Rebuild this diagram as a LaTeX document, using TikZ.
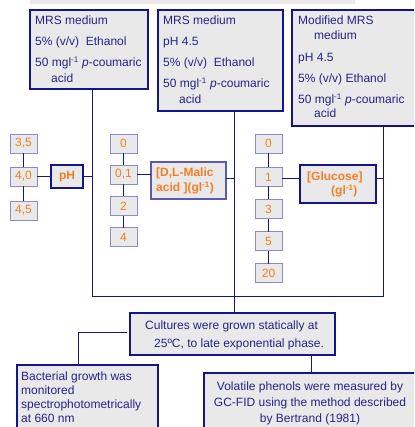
\documentclass[tikz,border=0pt]{standalone}
\usepackage{fontspec}
\setmainfont{Liberation Sans}
\definecolor{navy}{RGB}{20,20,140}
\definecolor{txtblue}{RGB}{35,35,140}
\definecolor{orng}{RGB}{245,125,35}
\definecolor{fillg}{RGB}{233,233,233}
\definecolor{vborder}{RGB}{140,140,205}
\definecolor{mborder}{RGB}{90,90,175}
\tikzset{
  mainbox/.style={draw=navy, line width=1.1pt, fill=fillg, inner sep=0pt, outer sep=0pt},
  valbox/.style={draw=vborder, line width=0.9pt, fill=fillg, inner sep=0pt, outer sep=0pt,
    minimum width=27pt, minimum height=19pt, text=orng, font=\fontsize{12}{14}\selectfont},
  keybox/.style={draw=navy, line width=1.3pt, fill=fillg, inner sep=0pt, outer sep=0pt},
  lbl/.style={text=txtblue, inner sep=0pt, anchor=base west, font=\fontsize{12}{14}\selectfont},
  olbl/.style={text=orng, inner sep=0pt, anchor=base west, font=\fontsize{12}{14}\selectfont\bfseries},
  conn/.style={draw=navy, line width=1pt},
}
\begin{document}
\begin{tikzpicture}[x=1pt,y=-1pt]
\useasboundingbox (0,0) rectangle (414,427);
\clip (0,0) rectangle (414,427);
% top strip (cut off)
\fill[fillg] (30,-10) rectangle (355,4);
% medium boxes
\node[mainbox, minimum width=118pt, minimum height=79pt] (b1) at (89,49.5) {};
\node[lbl] at (35,25) {MRS medium};
\node[lbl] at (35,46) {5\% (v/v)\ \ Ethanol};
\node[lbl] at (35,67) {50 mgl\textsuperscript{-1} \textit{p}-coumaric};
\node[lbl] at (51,83) {acid};
\node[mainbox, minimum width=125pt, minimum height=101pt] (b2) at (220.5,60.5) {};
\node[lbl] at (163,25) {MRS medium};
\node[lbl] at (163,46) {pH 4.5};
\node[lbl] at (163,67) {5\% (v/v)\ \ Ethanol};
\node[lbl] at (163,88) {50 mgl\textsuperscript{-1} \textit{p}-coumaric};
\node[lbl] at (179,104) {acid};
\node[mainbox, minimum width=126pt, minimum height=116pt] (b3) at (355,68) {};
\node[lbl] at (298,25) {Modified MRS};
\node[lbl] at (314,40) {medium};
\node[lbl] at (298,62) {pH 4.5};
\node[lbl] at (298,83) {5\% (v/v) Ethanol};
\node[lbl] at (298,104) {50 mgl\textsuperscript{-1} \textit{p}-coumaric};
\node[lbl] at (314,118) {acid};
% pH values
\node[valbox] (p35) at (23.5,143.5) {3,5};
\node[valbox] (p40) at (23.5,176.5) {4,0};
\node[valbox] (p45) at (23.5,210.5) {4,5};
\node[keybox, minimum width=32pt, minimum height=23pt, text=orng, font=\fontsize{12}{14}\selectfont\bfseries] (ph) at (67,176.5) {pH};
% malic values
\node[valbox] (m0) at (123.5,143.5) {0};
\node[valbox] (m01) at (123.5,174.5) {0,1};
\node[valbox] (m2) at (123.5,206) {2};
\node[valbox] (m4) at (123.5,237) {4};
\node[keybox, draw=mborder, line width=1.1pt, minimum width=75pt, minimum height=37pt] (mal) at (188.5,180.5) {};
\node[olbl] at (156,177) {[D,L-Malic};
\node[olbl] at (156,192) {acid ](gl\textsuperscript{-1})};
% glucose values
\node[valbox] (g0) at (268.5,143.5) {0};
\node[valbox] (g1) at (268.5,177) {1};
\node[valbox] (g3) at (268.5,209) {3};
\node[valbox] (g5) at (268.5,241) {5};
\node[valbox] (g20) at (268.5,273) {20};
\node[keybox, minimum width=76pt, minimum height=38pt] (gl) at (338,184) {};
\node[olbl] at (307,181) {[Glucose]};
\node[olbl] at (331,195) {(gl\textsuperscript{-1})};
% cultures
\node[mainbox, minimum width=205pt, minimum height=42pt] (cu) at (232.5,334) {};
\node[lbl] at (145,329) {Cultures were grown statically at};
\node[lbl] at (154,347) {25ºC, to late exponential phase.};
% bacterial growth
\node[mainbox, minimum width=141pt, minimum height=75pt] (bac) at (87.5,402.5) {};
\node[lbl] at (21,380) {Bacterial growth was};
\node[lbl] at (21,394) {monitored};
\node[lbl] at (21,408) {spectrophotometrically};
\node[lbl] at (21,422) {at 660 nm};
% volatile phenols
\node[mainbox, minimum width=216pt, minimum height=67pt] (vo) at (312,406.5) {};
\node[lbl, anchor=base] at (310,390) {Volatile phenols were measured by};
\node[lbl, anchor=base] at (310,406) {GC-FID using the method described};
\node[lbl, anchor=base] at (310,422) {by Bertrand (1981)};
% coordinates
\coordinate (busL) at (92,296);
\coordinate (busR) at (383,296);
\coordinate (c2) at (234,0);
\coordinate (bk) at (78,332);
\coordinate (vk) at (311,0);
% connectors
\draw[conn] (b1.south -| busL) -- (busL) -- (busR) -- (b3.south -| busR);
\draw[conn] (b2.south -| c2) -- (cu.north -| c2);
\draw[conn] (p35.south) -- (p40.north);
\draw[conn] (p40.south) -- (p45.north);
\draw[conn] (p40.east) -- (ph.west);
\draw[conn] (ph.east) -- (ph.east -| busL);
\draw[conn] (m0.south) -- (m01.north);
\draw[conn] (m01.south) -- (m2.north);
\draw[conn] (m2.south) -- (m4.north);
\draw[conn] (m01.east) -- (m01.east -| mal.west);
\draw[conn] (mal.east |- 0,179) -- (c2 |- 0,179);
\draw[conn] (g0.south) -- (g1.north);
\draw[conn] (g1.south) -- (g3.north);
\draw[conn] (g3.south) -- (g5.north);
\draw[conn] (g5.south) -- (g20.north);
\draw[conn] (g1.east |- 0,179) -- (gl.west |- 0,179);
\draw[conn] (gl.east |- 0,179) -- (busR |- 0,179);
\draw[conn] ([xshift=-3pt,yshift=2pt]cu.west) -- (bk) -- (bac.north -| bk);
\draw[conn] (cu.south -| vk) -- (vo.north -| vk);
\end{tikzpicture}
\end{document}
